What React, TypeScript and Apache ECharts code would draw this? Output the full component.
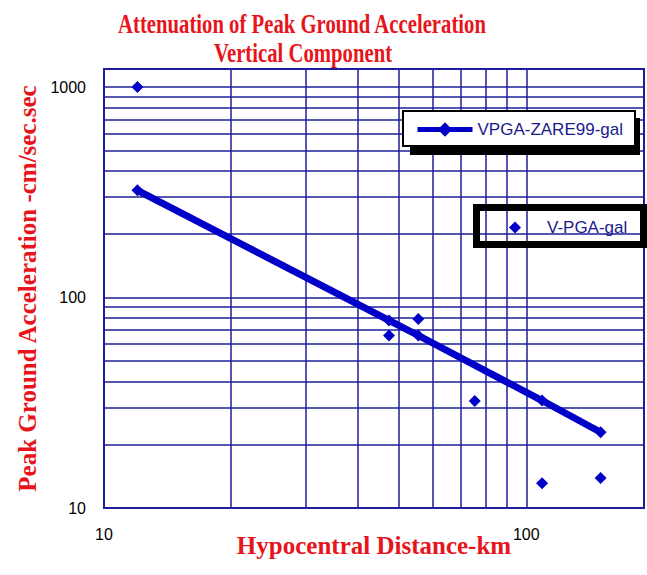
import React, { useEffect, useRef } from 'react';
import * as echarts from 'echarts';

// ---- text ----
const titleLines = ['Attenuation of Peak Ground Acceleration', 'Vertical Component'];
const xAxisTitle = 'Hypocentral Distance-km';
const yAxisTitle = 'Peak Ground Acceleration -cm/sec.sec';
const fitName = 'VPGA-ZARE99-gal';
const obsName = 'V-PGA-gal';

// ---- data ----
const fitDistance = [12, 47.3, 55.5, 109, 150];
const fitPGA = [323, 77.8, 66, 32.4, 22.9];
const obsDistance = [12, 47.3, 55.5, 75.5, 109, 150];
const obsPGA = [1000, 66, 79, 32.2, 13.1, 13.9];

// ---- axes ----
const xRange = [10, 190];
const yRange = [10, 1218];
const decadeLabels = [10, 100, 1000];
const xMinorGrid = [20, 30, 40, 50, 60, 70, 80, 90];
const yMinorGrid = [20, 30, 40, 50, 60, 70, 80, 90, 200, 300, 400, 500, 600, 700, 800, 900];

const NAVY = '#1e1e9c';
const BLUE = '#0000c8';
const RED = '#e8141b';
const LEGEND_TEXT = '#1a1a8c';

const decadeFormatter = (v: number) =>
  decadeLabels.some((d) => Math.abs(v - d) < d * 1e-6) ? String(Math.round(v)) : '';

export default function App() {
  const ref = useRef<HTMLDivElement>(null);

  useEffect(() => {
    if (!ref.current) return;
    const chart = echarts.init(ref.current, null, { renderer: 'svg' });

    const axisNameStyle = {
      fontFamily: '"Liberation Serif", "Times New Roman", serif',
      fontWeight: 'bold' as const,
      fontSize: 25,
      color: RED,
    };
    const tickLabel = {
      fontFamily: '"Liberation Sans", Arial, sans-serif',
      fontSize: 16,
      color: '#000',
      margin: 18,
      formatter: decadeFormatter,
    };
    const legendText = {
      fontFamily: '"Liberation Sans", Arial, sans-serif',
      fontSize: 17,
      color: LEGEND_TEXT,
    };
    const titleStyle = {
      fontFamily: '"Liberation Serif", "Times New Roman", serif',
      fontWeight: 'bold',
      fontSize: 28,
      fill: RED,
      align: 'center',
      verticalAlign: 'middle',
    };

    const option: any = {
      animation: false,
      backgroundColor: '#ffffff',
      grid: {
        left: 104,
        right: 0,
        top: 69,
        bottom: 67,
        show: true,
        borderColor: NAVY,
        borderWidth: 2,
        backgroundColor: 'transparent',
      },
      xAxis: {
        type: 'log',
        logBase: 10,
        min: xRange[0],
        max: xRange[1],
        name: xAxisTitle,
        nameLocation: 'middle',
        nameGap: 25,
        nameMoveOverlap: false,
        nameTextStyle: axisNameStyle,
        axisLine: { show: true, onZero: false, lineStyle: { color: NAVY, width: 2 } },
        axisTick: { show: false },
        axisLabel: tickLabel,
        splitLine: { show: true, lineStyle: { color: NAVY, width: 1.5 } },
      },
      yAxis: {
        type: 'log',
        logBase: 10,
        min: yRange[0],
        max: yRange[1],
        name: yAxisTitle,
        nameLocation: 'middle',
        nameRotate: 90,
        nameGap: 62,
        nameTextStyle: axisNameStyle,
        axisLine: { show: true, onZero: false, lineStyle: { color: NAVY, width: 2 } },
        axisTick: { show: false },
        axisLabel: tickLabel,
        splitLine: { show: true, lineStyle: { color: NAVY, width: 1.5 } },
      },
      legend: [
        {
          data: [fitName],
          left: 403,
          top: 111,
          padding: [10, 12, 8, 12],
          itemWidth: 55,
          itemHeight: 18,
          backgroundColor: '#ffffff',
          borderColor: '#000000',
          borderWidth: 2,
          lineStyle: { width: 5 },
          textStyle: legendText,
          selectedMode: false,
          z: 5,
        },
        {
          data: [obsName],
          left: 509,
          top: 219,
          padding: 0,
          itemWidth: 12,
          itemHeight: 12,
          backgroundColor: 'transparent',
          borderWidth: 0,
          textStyle: { ...legendText, padding: [0, 0, 0, 21] },
          selectedMode: false,
          z: 5,
        },
      ],
      graphic: [
        {
          type: 'text',
          x: 302,
          y: 23,
          scaleX: 0.74,
          style: { ...titleStyle, text: titleLines[0] },
        },
        {
          type: 'text',
          x: 303,
          y: 52,
          scaleX: 0.74,
          style: { ...titleStyle, text: titleLines[1] },
        },
        {
          type: 'rect',
          z: 4,
          shape: { x: 410, y: 118, width: 230, height: 37 },
          style: { fill: '#000000' },
        },
        {
          type: 'rect',
          z: 4,
          shape: { x: 476.5, y: 207.5, width: 167, height: 37 },
          style: { fill: 'none', stroke: '#000000', lineWidth: 7 },
        },
      ],
      series: [
        {
          name: 'gridlines',
          type: 'line',
          data: [],
          silent: true,
          markLine: {
            silent: true,
            z: 1,
            symbol: ['none', 'none'],
            label: { show: false },
            lineStyle: { color: NAVY, width: 1.5, type: 'solid' },
            emphasis: { disabled: true },
            data: [
              ...xMinorGrid.map((v) => ({ xAxis: v })),
              ...yMinorGrid.map((v) => ({ yAxis: v })),
            ],
          },
        },
        {
          name: fitName,
          type: 'line',
          data: fitDistance.map((d, i) => [d, fitPGA[i]]),
          symbol: 'diamond',
          symbolSize: 12,
          showAllSymbol: true,
          lineStyle: { width: 7, color: BLUE },
          itemStyle: { color: BLUE },
          z: 3,
        },
        {
          name: obsName,
          type: 'scatter',
          data: obsDistance.map((d, i) => [d, obsPGA[i]]),
          symbol: 'diamond',
          symbolSize: 12,
          itemStyle: { color: BLUE, opacity: 1 },
          z: 3,
        },
      ],
    };

    chart.setOption(option);
    return () => chart.dispose();
  }, []);

  return (
    <div
      ref={ref}
      style={{ position: 'absolute', left: 0, top: 0, width: 647, height: 575, background: '#fff' }}
    />
  );
}
